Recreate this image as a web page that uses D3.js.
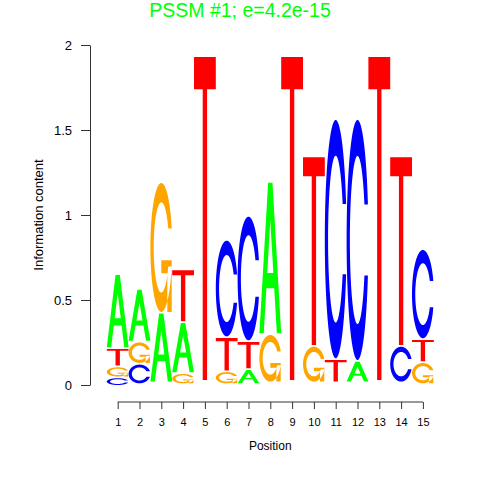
<!DOCTYPE html>
<html><head><meta charset="utf-8">
<script src="https://cdn.jsdelivr.net/npm/d3@7"></script>
<style>body{margin:0;background:#fff}svg{display:block}</style>
</head><body>
<script>
// ---- data (drawn letter heights in bits, per position) ----
const positions = [1,2,3,4,5,6,7,8,9,10,11,12,13,14,15];
const heightA = [0.425,0.300,0.400,0.290,0,0,0.078,0.886,0,0,0,0.117,0,0,0];
const heightC = [0.040,0.110,0,0,0,0.563,0.727,0,0,0,1.402,1.412,0,0.205,0.519];
const heightG = [0.054,0.120,0.758,0.055,0,0.066,0,0.274,0,0.205,0,0,0,0,0.119];
const heightT = [0.098,0,0,0.300,1.900,0.190,0.155,0,1.900,1.104,0.127,0,1.900,1.104,0.126];
const letters = ["A","C","G","T"];
const letterColors = {A:"#00FF00", C:"#0000FF", G:"#FFA500", T:"#FF0000"};
const yTicks = [0,0.5,1,1.5,2];
const yTickLabels = ["0","0.5","1","1.5","2"];
const titleText = "PSSM #1; e=4.2e-15";
const xTitle = "Position";
const yTitle = "Information content";
const gap = 0.01;

const W = 480, H = 480;
const svg = d3.select("body").append("svg").attr("width",W).attr("height",H);
const font = "'Liberation Sans', Arial, Helvetica, sans-serif";

const x = d3.scaleLinear().domain([0,15]).range([106.8, 433.8]);
const y = d3.scaleLinear().domain([0,2]).range([385, 45]);

// ---- letter polygons (unit box, y up) ----
function seq(a,b,n){const r=[];for(let i=0;i<n;i++)r.push(a+(b-a)*i/(n-1));return r;}
function cShape(){
  const a1 = seq(0.3+Math.PI/2, Math.PI, 100), a2 = seq(Math.PI, 1.5*Math.PI, 100);
  const xl1=a1.map(a=>0.5+0.5*Math.sin(a)), yl1=a1.map(a=>0.5+0.5*Math.cos(a));
  const xl2=a2.map(a=>0.5+0.5*Math.sin(a)), yl2=a2.map(a=>0.5+0.5*Math.cos(a));
  const xl=xl1.concat(xl2), yl=yl1.concat(yl2);
  const xo=xl.concat(xl.slice().reverse()), yo=yl.concat(yl.slice().reverse().map(v=>1-v));
  const h = Math.max(...yl1);
  let xi1=a1.map(a=>0.5+0.35*Math.sin(a)), yi1=a1.map(a=>0.5+0.35*Math.cos(a));
  const keep = yi1.map(v=>v<=h);
  xi1=xi1.filter((v,i)=>keep[i]); yi1=yi1.filter((v,i)=>keep[i]); yi1[0]=h;
  const xi2=a2.map(a=>0.5+0.35*Math.sin(a)), yi2=a2.map(a=>0.5+0.35*Math.cos(a));
  const xi=xi1.concat(xi2), yi=yi1.concat(yi2);
  const x1=xi.concat(xi.slice().reverse()), y1=yi.concat(yi.slice().reverse().map(v=>1-v));
  const px=xo.concat(x1.slice().reverse()), py=yo.concat(y1.slice().reverse());
  return {poly:[px.map((v,i)=>[v,py[i]])], r1:Math.max(...xl1)};
}
function shapes(letter){
  if(letter==="A"){
    const xs=[0,4,6,10,8,6.8,3.2,2,0], ys=[0,10,10,0,0,3,3,0,0];
    const hx=[3.6,5,6.4,3.6], hy=[4,7.5,4,4];
    return [xs.map((v,i)=>[v/10,ys[i]/10]), hx.map((v,i)=>[v/10,hy[i]/10])];
  }
  if(letter==="T"){
    const xs=[0,10,10,6,6,4,4,0], ys=[10,10,9,9,0,0,9,9];
    return [xs.map((v,i)=>[v/10,ys[i]/10])];
  }
  const c = cShape();
  if(letter==="C") return c.poly;
  const r1=c.r1, h1=0.4;
  const xa=[r1,0.5,0.5,r1-0.2,r1-0.2,r1,r1], ya=[h1,h1,h1-0.1,h1-0.1,0,0,h1];
  return c.poly.concat([xa.map((v,i)=>[v,ya[i]])]);
}
const unitShapes = {}; letters.forEach(l=>unitShapes[l]=shapes(l));

function letterPath(l, x0, y0, w, h){
  return unitShapes[l].map(poly=>"M"+poly.map(p=>[x(x0+p[0]*w).toFixed(2), y(y0+p[1]*h).toFixed(2)].join(",")).join("L")+"Z").join("");
}

// build stacks (smallest at bottom)
const heights = {A:heightA, C:heightC, G:heightG, T:heightT};
const stacks = positions.map((p,j)=>{
  const col = letters.map(l=>({l, h:heights[l][j]}));
  col.sort((a,b)=>a.h-b.h);
  let yp=0; const out=[];
  col.forEach(d=>{ if(d.h>0) out.push({l:d.l, y0:yp, h:d.h, x0:j}); yp+=d.h+gap; });
  return out;
});

const gL = svg.append("g");
stacks.forEach(st=>st.forEach(d=>{
  gL.append("path").attr("d", letterPath(d.l, d.x0, d.y0, 1, d.h))
    .attr("fill", letterColors[d.l]).attr("fill-rule","evenodd").attr("stroke","none");
}));

// y axis
const yAxis = d3.axisLeft(y).tickValues(yTicks).tickFormat((d,i)=>yTickLabels[i]).tickSize(9).tickPadding(9).tickSizeOuter(0);
const gy = svg.append("g").attr("transform","translate(90,0)").call(yAxis);
gy.select(".domain").attr("stroke","#333");
gy.selectAll(".tick line").attr("stroke","#333");
gy.selectAll("text").attr("font-family",font).attr("font-size",13).attr("fill","#000");

// x axis
const xAxis = d3.axisBottom(x).tickValues(positions.map(p=>p-0.5)).tickFormat((d,i)=>positions[i]).tickSize(7).tickPadding(9).tickSizeOuter(0);
const gx = svg.append("g").attr("transform","translate(0,402)").call(xAxis);
gx.select(".domain").attr("d", `M${x(0.5)},0H${x(14.5)}`).attr("stroke","#333");
gx.selectAll(".tick line").attr("stroke","#333");
gx.selectAll("text").attr("font-family",font).attr("font-size",11).attr("fill","#000");

svg.append("text").attr("x", (x(0.5)+x(14.5))/2).attr("y", 450).attr("text-anchor","middle")
  .attr("font-family",font).attr("font-size",12).text(xTitle);
svg.append("text").attr("transform",`translate(43,${(y(0)+y(2))/2}) rotate(-90)`).attr("text-anchor","middle")
  .attr("font-family",font).attr("font-size",13).text(yTitle);
svg.append("text").attr("x", 240).attr("y", 16.5).attr("text-anchor","middle")
  .attr("font-family",font).attr("font-size",19.5).attr("fill","#00FF00").text(titleText);
</script>
</body></html>
